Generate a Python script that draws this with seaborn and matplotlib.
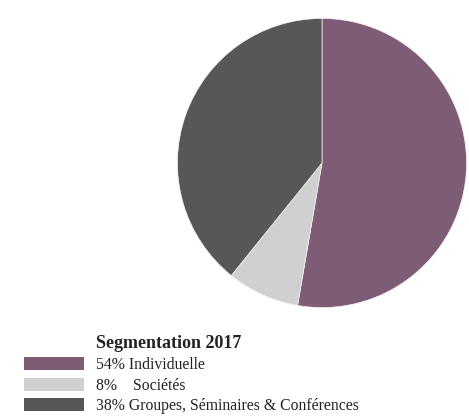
import matplotlib
matplotlib.use('Agg')
import matplotlib.pyplot as plt
from matplotlib.patches import Patch
import seaborn as sns

# data
segments = ['Individuelle', 'Sociétés', 'Groupes, Séminaires & Conférences']
label_pct = [54, 8, 38]           # percentages printed in the legend
slice_share = [52.7, 8.1, 39.2]   # slice sizes as drawn in the pie
colors = ['#7f5c75', '#d0d0d0', '#575755']
title = 'Segmentation 2017'

sns.set_theme(style='white')
plt.rcParams['font.family'] = ['Liberation Serif', 'DejaVu Serif']

fig = plt.figure(figsize=(4.69, 4.19), dpi=100)
ax = fig.add_axes([176 / 469, 1 - 309 / 419, 292 / 469, 292 / 419])
ax.pie(slice_share, colors=colors, startangle=90, counterclock=False,
       wedgeprops={'linewidth': 0.5, 'edgecolor': '#f4f4f4'})
ax.set_xlim(-1.01, 1.01)
ax.set_ylim(-1.01, 1.01)
ax.set_aspect('equal')

# legend: percentage column then label
labels = []
for p, s in zip(label_pct, segments):
    pct = f'{p}%'
    if p < 10:
        pct = pct + '   '
    labels.append(f'{pct} {s}')
handles = [Patch(facecolor=c, edgecolor='none') for c in colors]
fig.legend(handles, labels, loc='upper left', bbox_to_anchor=(24 / 469, 1 - 357 / 419),
           frameon=False, fontsize=11.3, handlelength=3.82, handleheight=0.9,
           handletextpad=0.76, labelspacing=0.29, borderpad=0, borderaxespad=0,
           labelcolor='#222222')
fig.text(96 / 469, 1 - 343 / 419, title, fontsize=13, fontweight='bold',
         va='center', ha='left', color='#222222')

fig.savefig('out.png', dpi=100)
